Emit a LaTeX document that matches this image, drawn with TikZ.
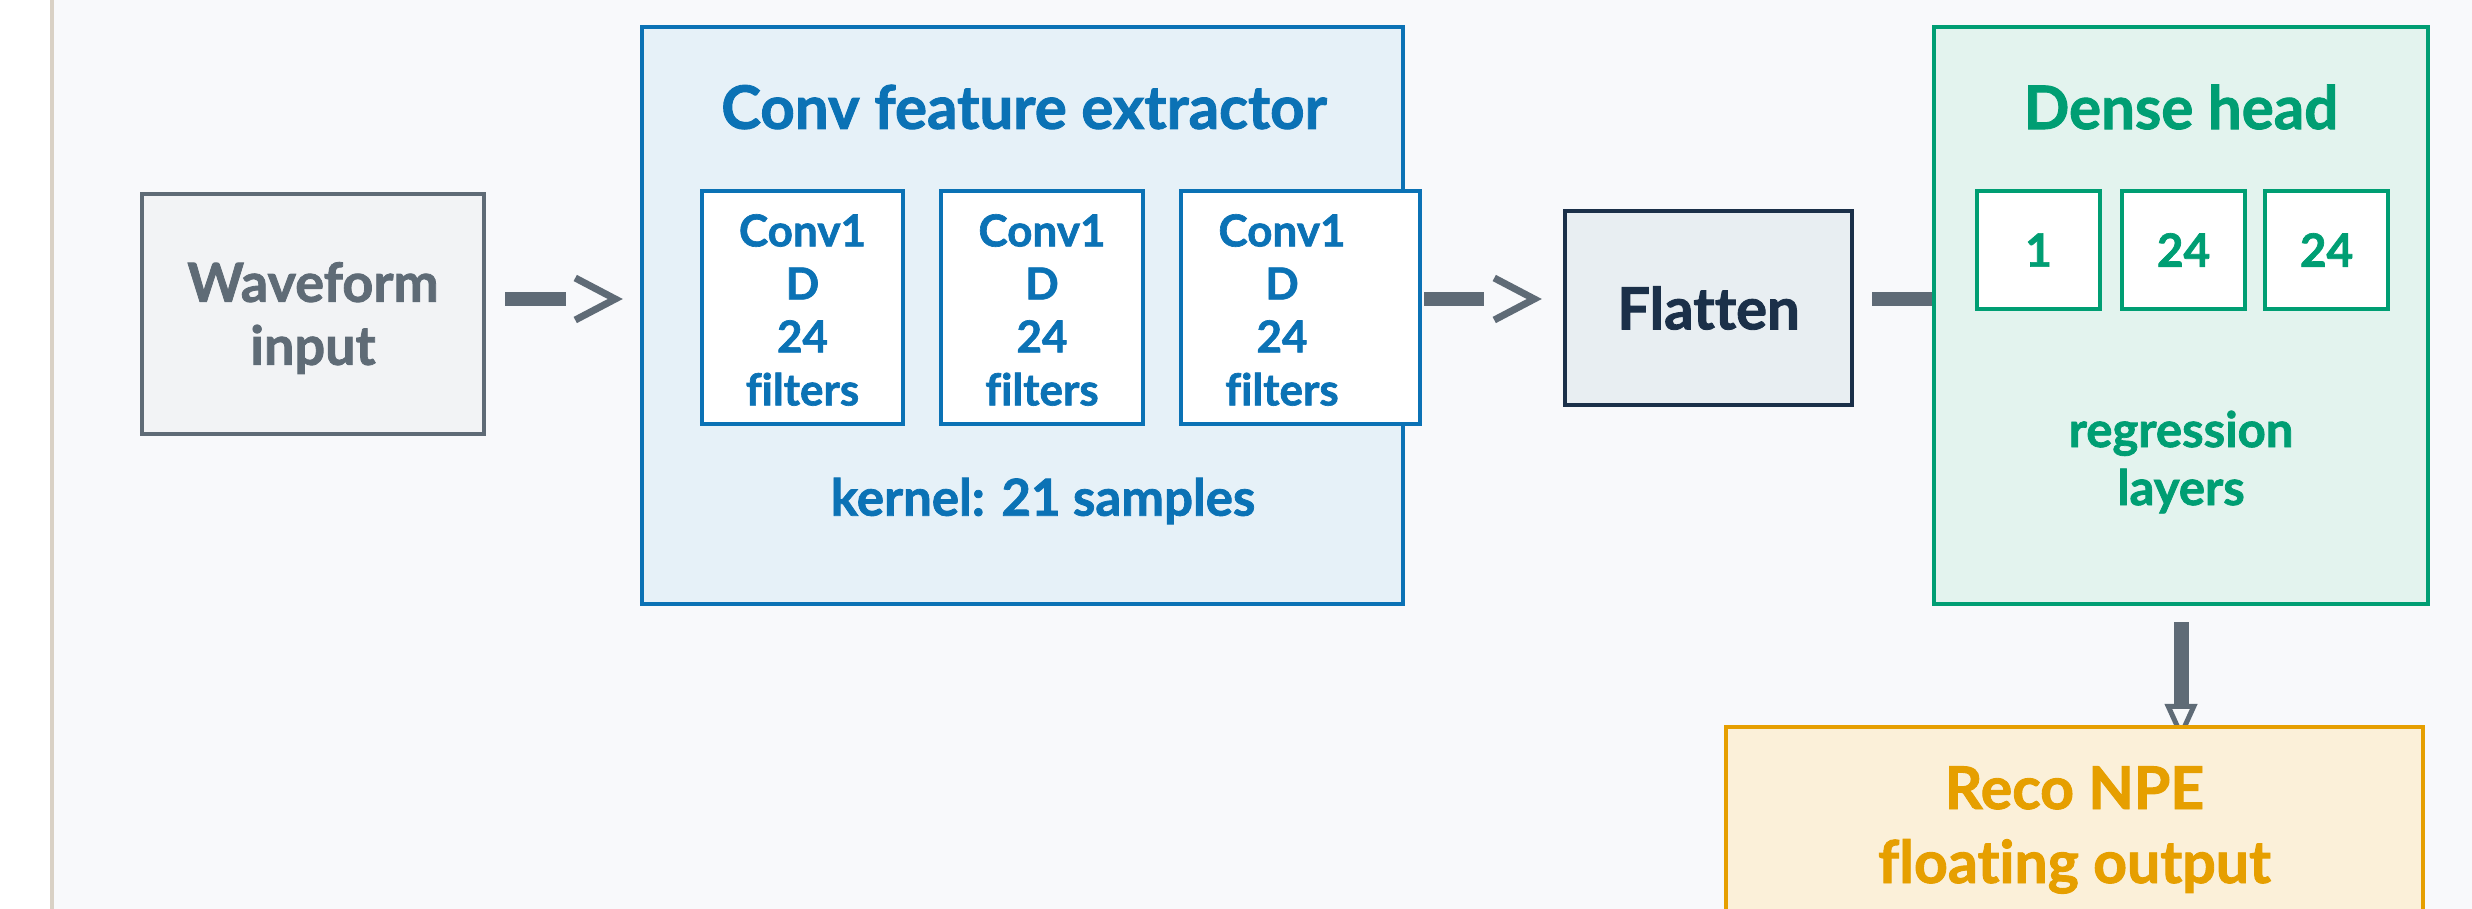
\documentclass[tikz,border=0pt]{standalone}
\usepackage{fontspec}
\setmainfont{Lato}[Ligatures=NoCommon, BoldFeatures={FakeBold=1.5}]
\usetikzlibrary{arrows.meta,calc}
\definecolor{bgc}{HTML}{F8F9FB}
\definecolor{sidec}{HTML}{D9D1C5}
\definecolor{grayc}{HTML}{5F6B76}
\definecolor{grayfill}{HTML}{F2F3F5}
\definecolor{bluec}{HTML}{0B72B5}
\definecolor{bluefill}{HTML}{E6F1F8}
\definecolor{navyc}{HTML}{1B3049}
\definecolor{navyfill}{HTML}{E8EEF2}
\definecolor{greenc}{HTML}{009E73}
\definecolor{greenfill}{HTML}{E3F3EE}
\definecolor{orangec}{HTML}{E69F00}
\definecolor{orangefill}{HTML}{FBF0D9}
\pgfdeclarelayer{back}
\pgfdeclarelayer{bg}
\pgfsetlayers{back,bg,main}
\tikzset{
  box/.style={draw, line width=4.5pt, inner sep=0pt, align=center},
  wavebox/.style={box, draw=grayc, fill=grayfill, text=grayc, minimum width=342pt, minimum height=240pt, font=\bfseries\fontsize{54}{63}\selectfont},
  convouter/.style={box, draw=bluec, fill=bluefill, minimum width=761pt, minimum height=577pt},
  convin/.style={box, draw=bluec, fill=white, minimum height=233pt},
  bluetxt/.style={inner sep=0pt, align=center, text=bluec, font=\bfseries\fontsize{44}{53}\selectfont},
  kerntxt/.style={inner sep=0pt, align=center, text=bluec, font=\bfseries\fontsize{51}{53}\selectfont},
  titletxt/.style={inner sep=0pt, align=center, font=\bfseries\fontsize{60}{70}\selectfont},
  flatbox/.style={box, draw=navyc, fill=navyfill, text=navyc, minimum width=287pt, minimum height=194pt, font=\bfseries\fontsize{58}{63}\selectfont},
  denseouter/.style={box, draw=greenc, fill=greenfill, minimum width=494pt, minimum height=577pt},
  densein/.style={box, draw=greenc, fill=white, text=greenc, minimum width=123pt, minimum height=118pt, font=\bfseries\fontsize{46}{53}\selectfont},
  greentxt/.style={inner sep=0pt, align=center, text=greenc, font=\bfseries\fontsize{49}{58}\selectfont},
  outbox/.style={box, draw=orangec, fill=orangefill, minimum width=697pt, minimum height=246pt},
  orangetxt/.style={inner sep=0pt, align=center, text=orangec, font=\bfseries\fontsize{59}{74}\selectfont},
  bar/.style={draw=grayc, line width=14pt},
  chev/.style={draw=grayc, line width=7pt, miter limit=10},
}
\begin{document}
\begin{tikzpicture}[x=1pt,y=-1pt]
\useasboundingbox (0,0) rectangle (2472,909);
\begin{pgfonlayer}{back}
  \fill[bgc] (0,0) rectangle (2472,909);
  \fill[white] (0,0) rectangle (50,909);
  \draw[sidec, line width=4pt] (52,0) -- (52,909);
\end{pgfonlayer}

% nodes
\node[wavebox] (wave) at (313,314) {};
\node[wavebox, draw=none, fill=none] (wavet) at (313,318) {Waveform\\input};
\node[convouter] (conv) at (1022.5,315.5) {};
\node[titletxt, text=bluec] (convtitle) at (1024,107) {Conv feature extractor};
\node[convin, minimum width=201pt] (c1) at (802.5,307.5) {};
\node[convin, minimum width=202pt] (c2) at (1042,307.5) {};
\node[convin, minimum width=239pt] (c3) at (1300.5,307.5) {};
\node[bluetxt] (c1t) at (802.5,310) {Conv1\\D\\24\\filters};
\node[bluetxt] (c2t) at (1042,310) {Conv1\\D\\24\\filters};
\node[bluetxt] (c3t) at (1282,310) {Conv1\\D\\24\\filters};
\node[kerntxt] (kern) at (1043,501) {kernel: 21 samples};

\node[flatbox] (flat) at (1708.5,308) {Flatten};

\node[denseouter] (dense) at (2181,315.5) {};
\node[titletxt, text=greenc] (densetitle) at (2181,107) {Dense head};
\node[densein] (d1) at (2038.5,250) {1};
\node[densein] (d2) at (2183.5,250) {24};
\node[densein] (d3) at (2326.5,250) {24};
\node[greentxt] (reg) at (2181,462) {regression\\layers};

\node[outbox] (out) at (2074.5,850) {};
\node[orangetxt] (outt) at (2074.5,830) {Reco NPE\\floating output};

% connectors
\coordinate (a1s) at ($(wave.east)+(19,-15)$);
\coordinate (a1e) at ($(a1s)+(61,0)$);
\coordinate (a1t) at ($(a1s)+(110,0)$);
\coordinate (a2s) at ($(c3.east)+(2,-8.5)$);
\coordinate (a2e) at ($(a2s)+(60,0)$);
\coordinate (a2t) at ($(a2s)+(110,0)$);
\coordinate (a3s) at ($(flat.east)+(18,-9)$);
\coordinate (a4s) at ($(dense.south)+(0,16)$);
\coordinate (a4e) at ($(out.north)+(0,16)$);
\begin{pgfonlayer}{bg}
  \draw[bar] (a1s) -- (a1e);
  \draw[chev] ($(a1t)+(-40,-21)$) -- (a1t) -- ($(a1t)+(-40,21)$);
  \draw[bar] (a2s) -- (a2e);
  \draw[chev] ($(a2t)+(-40,-21)$) -- (a2t) -- ($(a2t)+(-40,21)$);
  \draw[bar] (a3s) -- (a3s -| dense.west);
  \draw[draw=grayc, line width=15pt, -{Triangle[open, length=37pt, width=32pt, line width=5pt]}] (a4s) -- (a4s |- a4e);
\end{pgfonlayer}
\end{tikzpicture}
\end{document}
